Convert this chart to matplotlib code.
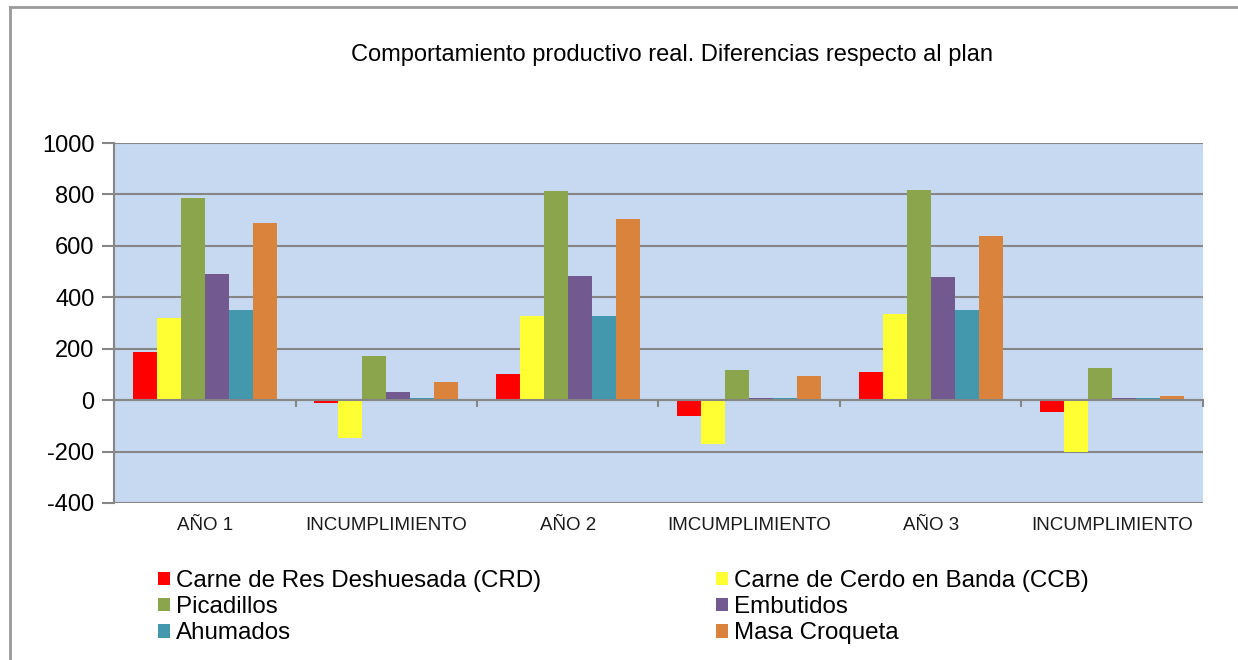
import numpy as np
import matplotlib.pyplot as plt
from matplotlib.transforms import blended_transform_factory
from matplotlib.patches import Patch

plt.rcParams['font.family'] = ['Liberation Sans', 'DejaVu Sans']
plt.rcParams['axes.unicode_minus'] = False

categorias = ["AÑO 1", "INCUMPLIMIENTO", "AÑO 2", "IMCUMPLIMIENTO", "AÑO 3", "INCUMPLIMIENTO"]
series = ["Carne de Res Deshuesada (CRD)", "Carne de Cerdo en Banda (CCB)", "Picadillos",
          "Embutidos", "Ahumados", "Masa Croqueta"]
crd = [188, -13, 103, -61, 110, -45]
ccb = [321, -147, 329, -169, 336, -201]
picadillos = [788, 171, 812, 117, 819, 125]
embutidos = [492, 32, 484, 9, 477, 9]
ahumados = [352, 9, 329, 9, 352, 9]
masa = [687, 71, 703, 94, 640, 17]
valores = [crd, ccb, picadillos, embutidos, ahumados, masa]
colores = ["#FF0000", "#FFFF33", "#8AA54B", "#72598F", "#4398AE", "#DA833C"]

fig = plt.figure(figsize=(12.38, 6.6), dpi=100)
ax = fig.add_axes([0.0921, 0.2379, 0.8796, 0.5454])
ax.set_facecolor("#C6D9F0")

x = np.arange(len(categorias))
w = 0.132
for i, (vals, c) in enumerate(zip(valores, colores)):
    ax.bar(x + (i - 2.5) * w, vals, width=w, color=c, edgecolor="none", zorder=3)

ax.set_xlim(-0.5, len(categorias) - 0.5)
ax.set_ylim(-400, 1000)
ax.set_yticks(np.arange(-400, 1001, 200))
ax.yaxis.grid(True, color="#868686", linewidth=1.5, zorder=1)
ax.set_axisbelow(True)
for s in ["top", "right"]:
    ax.spines[s].set_visible(False)
ax.spines["left"].set_color("#868686")
ax.spines["left"].set_linewidth(1.5)
ax.spines["bottom"].set_position(("data", 0))
ax.spines["bottom"].set_color("#868686")
ax.spines["bottom"].set_linewidth(1.5)
ax.spines["bottom"].set_zorder(4)
ax.set_xticks(np.arange(len(categorias) + 1) - 0.5)
ax.set_xticklabels([])
ax.tick_params(axis="x", length=5, width=1.5, color="#868686", direction="out")
ax.tick_params(axis="y", length=9, width=1.5, color="#868686", labelsize=17, pad=5)

trans = blended_transform_factory(ax.transData, ax.transAxes)
for xi, cat in zip(x, categorias):
    ax.text(xi, -0.04, cat, transform=trans, ha="center", va="top", fontsize=13.5, color="#1A1A1A")

fig.text(0.543, 0.916, "Comportamiento productivo real. Diferencias respecto al plan",
         ha="center", va="center", fontsize=17)

handles = [Patch(facecolor=c, edgecolor="none") for c in colores]
legkw = dict(frameon=False, fontsize=17.4, handlelength=0.5, handleheight=0.5,
             handletextpad=0.25, labelspacing=0.17, borderpad=0, borderaxespad=0)
fig.legend([handles[0], handles[2], handles[4]], [series[0], series[2], series[4]],
           loc="upper left", bbox_to_anchor=(158 / 1238, 1 - 570 / 660), **legkw)
fig.legend([handles[1], handles[3], handles[5]], [series[1], series[3], series[5]],
           loc="upper left", bbox_to_anchor=(716 / 1238, 1 - 570 / 660), **legkw)

# marco exterior del grafico
fig.add_artist(plt.Line2D([10 / 1238, 1], [1 - 7 / 660, 1 - 7 / 660], transform=fig.transFigure,
                          color="#9A9A9A", linewidth=2))
fig.add_artist(plt.Line2D([10 / 1238, 10 / 1238], [0, 1 - 7 / 660], transform=fig.transFigure,
                          color="#9A9A9A", linewidth=2))

fig.savefig("out.png", dpi=100)
